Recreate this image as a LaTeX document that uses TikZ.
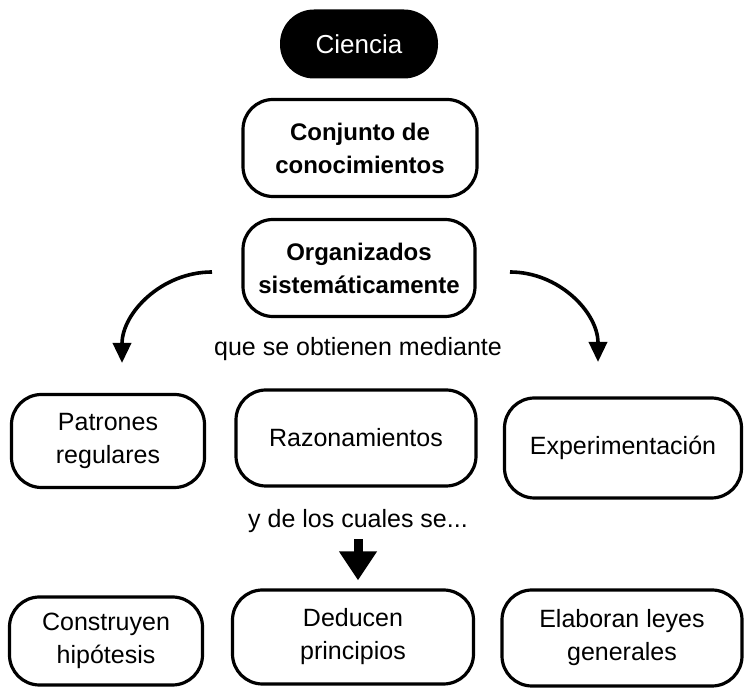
\documentclass[tikz,border=0pt]{standalone}
\usepackage{fontspec}
\setmainfont{Liberation Sans}
\usetikzlibrary{arrows.meta,positioning}

\begin{document}
\begin{tikzpicture}[x=0.5pt, y=-0.5pt,
  box/.style={draw, line width=1.6pt, rounded corners=15pt, align=center,
              font=\fontsize{12.5}{16.5}\selectfont, inner sep=2pt},
  keybox/.style={box, font=\bfseries\fontsize{12}{16.5}\selectfont},
  note/.style={font=\fontsize{12.5}{15}\selectfont, inner sep=1pt},
  arr/.style={-{Triangle[length=10pt,width=9pt]}, line width=1.8pt},
  bigarr/.style={-{Triangle[length=14.5pt,width=18pt]}, line width=4.5pt}]
  \useasboundingbox (0,0) rectangle (745,688);
  % top of the chain
  \node[fill=black, text=white, rounded corners=17pt, minimum width=79pt, minimum height=34.5pt,
        font=\fontsize{13}{16}\selectfont] (ciencia) at (359,44) {Ciencia};
  \node[keybox, minimum width=117pt, minimum height=48.5pt] (conj) at (360,148) {Conjunto de\\conocimientos};
  \node[keybox, minimum width=116pt, minimum height=48.5pt] (org) at (359,268) {Organizados\\sistemáticamente};
  \node[note] (que) at (358,349) {que se obtienen mediante};
  % means
  \node[box, minimum width=96.5pt, minimum height=46.5pt] (patr) at (108,441) {Patrones\\regulares};
  \node[box, minimum width=120pt, minimum height=48pt] (razo) at (356,438) {Razonamientos};
  \node[box, minimum width=118.5pt, minimum height=50pt] (expe) at (623,448) {Experimentación};
  \node[note] (yde) at (358,521) {y de los cuales se...};
  % results
  \node[box, minimum width=96.5pt, minimum height=44pt] (cons) at (106,641) {Construyen\\hipótesis};
  \node[box, minimum width=120.5pt, minimum height=47pt] (dedu) at (353,637) {Deducen\\principios};
  \node[box, minimum width=120pt, minimum height=48pt] (elab) at (622,638) {Elaboran leyes\\generales};
  \coordinate (lfrom) at (212,272); \coordinate (lto) at (122,363);
  \coordinate (rfrom) at (510,272); \coordinate (rto) at (598,362);
  \draw[arr] (lfrom) to[out=180,in=90] (lto);
  \draw[arr] (rfrom) to[out=0,in=90] (rto);
  \draw[bigarr, shorten <=2pt, shorten >=4pt] (yde.south) -- (yde.south |- dedu.north);
\end{tikzpicture}
\end{document}
